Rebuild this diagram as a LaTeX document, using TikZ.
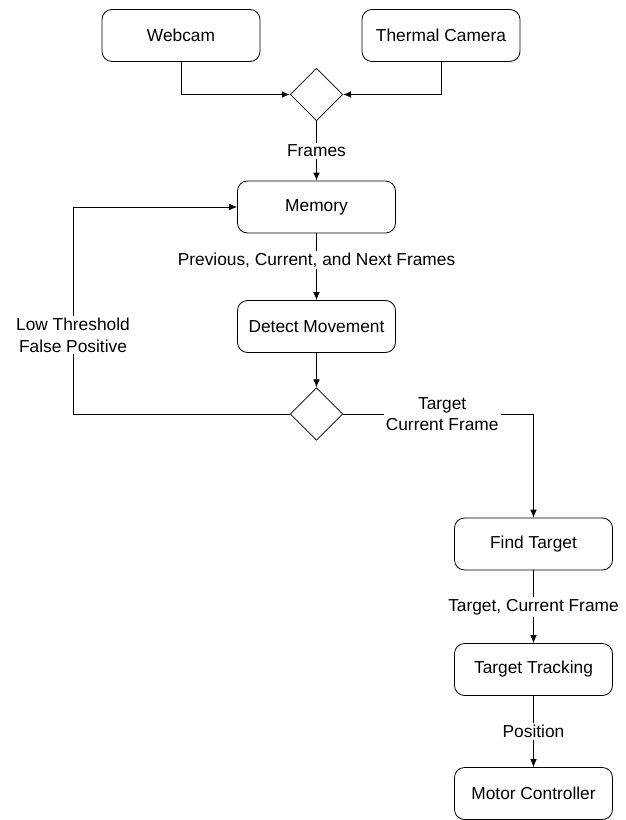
\documentclass[tikz,border=0pt]{standalone}
\usepackage{fontspec}
\setmainfont{Liberation Sans}
\usetikzlibrary{arrows.meta, positioning, shapes.geometric}

\begin{document}
\begin{tikzpicture}[x=0.75pt, y=-0.75pt,
				>={Latex[length=6pt,width=5pt]},
				line width=0.6pt,
				font=\fontsize{13}{16}\selectfont,
				block/.style={draw, rounded corners=7.5pt, minimum width=118.5pt, minimum height=39pt, inner sep=0pt},
				decision/.style={draw, diamond, minimum width=39.5pt, minimum height=39.5pt, inner sep=0pt},
				lbl/.style={fill=white, inner sep=1.5pt, align=center}]
				\useasboundingbox (0,0) rectangle (625,820);
				\node at (181,35.5) (webcam) [block] {Webcam};
				\node at (441,35.5) (thermal) [block] {Thermal Camera};
				\node at (316.5,94.5) (merge) [decision] {};
				\node at (316.5,207) (memory) [block] {Memory};
				\node at (316.5,326.5) (detect) [block] {Detect Movement};
				\node at (316.5,414) (check) [decision] {};
				\node at (533.5,544) (find) [block] {Find Target};
				\node at (533.5,669.5) (track) [block] {Target Tracking};
				\node at (533.5,793.5) (motor) [block] {Motor Controller};
				\coordinate (back) at (73,414);
				\draw[->] (webcam) |- (merge);
				\draw[->] (thermal) |- (merge);
				\draw[->] (merge) -- node[lbl] {Frames} (memory);
				\draw[->] (memory) -- node[lbl, pos=0.4] {Previous, Current, and Next Frames} (detect);
				\draw[->] (detect) -- (check);
				\draw[->] (check) -- (back) |- node[lbl, pos=0.19] {Low Threshold\\False Positive} (memory);
				\draw[->] (check) -| node[lbl, pos=0.26] {Target\\Current Frame} (find);
				\draw[->] (find) -- node[lbl] {Target, Current Frame} (track);
				\draw[->] (track) -- node[lbl] {Position} (motor);
			\end{tikzpicture}
\end{document}
